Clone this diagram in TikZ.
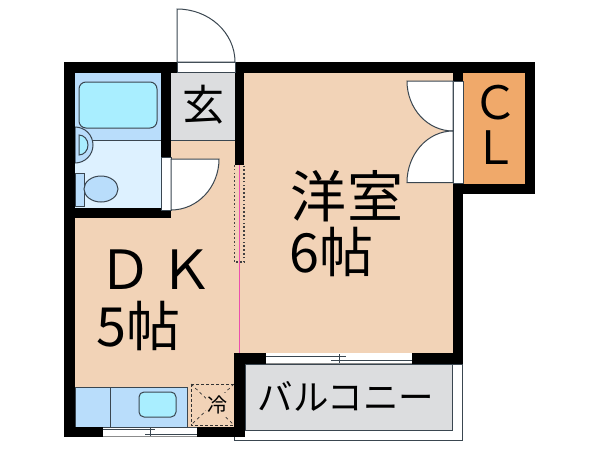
\documentclass[tikz,border=0pt]{standalone}
\usepackage{fontspec}
\usepackage[dvipsnames]{xcolor}
\newfontfamily\cjk{Noto Sans CJK JP}
\definecolor{roomtan}{HTML}{F2D3B7}
\definecolor{bathblue}{HTML}{B9DDFB}
\definecolor{tubblue}{HTML}{A9EEFF}
\definecolor{washblue}{HTML}{DDF1FF}
\definecolor{floorgray}{HTML}{DCDDDF}
\definecolor{closet}{HTML}{F0A96A}
\definecolor{linegray}{HTML}{3A4650}
\definecolor{slidepink}{HTML}{EC4FAE}

\begin{document}
\begin{tikzpicture}[x=1pt,y=-1pt,line join=miter,
    wall/.style={fill=black,draw=none},
    thin line/.style={draw=linegray,line width=1pt},
    leaf/.style={thin line,fill=white},
    sash/.style={draw=linegray,line width=0.8pt},
    rail/.style={draw=black!75,line width=1.3pt,dash pattern=on 1.6pt off 2.2pt},
    label/.style={font=\cjk,text=black,inner sep=0pt,anchor=center}]
            \useasboundingbox (0,0) rectangle (600,450);

            % floors
            \fill[roomtan] (244,73) rectangle (453,353);
            \fill[roomtan] (75,218) rectangle (244,427);
            \fill[roomtan] (171,140) rectangle (244,218);
            \fill[floorgray] (171,73) rectangle (235,140);
            \fill[bathblue] (75,73) rectangle (161,140);
            \fill[washblue] (75,140) rectangle (161,208);
            \fill[closet] (463,73) rectangle (525,184);
            \draw[thin line] (171,140) -- (235,140);

            % balcony
            \draw[draw=linegray,line width=0.7pt] (234,440) rectangle (462.5,364);
            \draw[fill=floorgray,draw=linegray,line width=0.9pt] (245,364) rectangle (452,430);

            % bath and toilet
            \draw[thin line] (75,140) -- (161,140);
            \draw[thin line,fill=tubblue,rounded corners=7pt] (79,82) rectangle (157,128);
            \draw[thin line,fill=bathblue] (75,127) arc[start angle=-90,end angle=90,radius=18] -- cycle;
            \draw[thin line,fill=tubblue] (79,135) arc[start angle=-90,end angle=90,x radius=9,y radius=10] -- cycle;
            \draw[thin line,fill=bathblue] (75,173) rectangle (84,206);
            \draw[thin line,fill=bathblue] (101,189) ellipse[x radius=17,y radius=13];

            % kitchen
            \draw[thin line,fill=bathblue] (75,387) rectangle (187,427);
            \draw[thin line] (110,387) -- (110,427);
            \draw[thin line,fill=tubblue,rounded corners=5pt] (139,392) rectangle (176,417);
            \draw[draw=black!80,line width=1pt,densely dashed] (191,384) rectangle (234,425);
            \draw[draw=black!80,line width=0.7pt,dashed] (191,384) -- (234,425) (234,384) -- (191,425);
            \fill[roomtan] (206,393) rectangle (228,417);

            % walls
            \fill[wall] (64,62) rectangle (535,73);
            \fill[wall] (64,62) rectangle (75,437);
            \fill[wall] (64,427) rectangle (103,437);
            \fill[wall] (197,427) rectangle (245,437);
            \fill[wall] (64,208) rectangle (171,218);
            \fill[wall] (161,62) rectangle (171,157);
            \fill[wall] (235,62) rectangle (244,165);
            \fill[wall] (234,353) rectangle (245,437);
            \fill[wall] (234,353) rectangle (266,364);
            \fill[wall] (412,353) rectangle (463,364);
            \fill[wall] (453,62) rectangle (463,81);
            \fill[wall] (453,183) rectangle (463,364);
            \fill[wall] (525,62) rectangle (535,194);
            \fill[wall] (453,184) rectangle (535,194);

            % entrance door
            \draw[leaf] (177,62) rectangle (235,72);
            \draw[leaf] (177,62) -- (177,9) arc[start angle=-90,end angle=0,x radius=58,y radius=53] -- cycle;

            % bath door
            \draw[leaf] (161,157) rectangle (171,210);
            \draw[leaf] (171,159) -- (219,159) arc[start angle=0,end angle=90,x radius=48,y radius=51] -- cycle;

            % closet doors
            \draw[leaf] (453,81) rectangle (463,183);
            \draw[leaf] (453,81) -- (407,81) arc[start angle=180,end angle=90,x radius=46,y radius=50] -- cycle;
            \draw[leaf] (453,182.5) -- (407,182.5) arc[start angle=180,end angle=270,x radius=46,y radius=51.5] -- cycle;

            % sliding partition
            \draw[rail] (234.5,165) -- (234.5,262) -- (244,262) -- (244,165);
            \draw[draw=slidepink,line width=1.4pt] (239.5,165) -- (239.5,353);

            % windows
            \fill[white] (103,427) rectangle (197,437);
            \draw[sash] (103,427) -- (197,427);
            \draw[sash] (103,429.5) -- (155,429.5);
            \draw[sash] (145,434) -- (197,434);
            \draw[sash] (150,427) -- (150,436);
            \draw[draw=black!45,line width=1pt] (103,436.5) -- (197,436.5);
            \fill[white] (266,354) rectangle (412,363);
            \draw[sash] (266,356.7) -- (346,356.7);
            \draw[sash] (331,360.7) -- (412,360.7);
            \draw[sash] (339,354) -- (339,364);
            \draw[draw=black!45,line width=1pt] (266,363.5) -- (412,363.5);

            % labels
            \node[label,font=\cjk\fontsize{42}{42}\selectfont] (genkan) at (203,105) {玄};
            \node[label,font=\cjk\fontsize{56}{56}\selectfont] (yoshitsu) at (347,196) {洋\kern1pt 室};
            \node[label,font=\cjk\fontsize{54}{54}\selectfont,anchor=west] (yoshitsu size) at (289,252) {6帖};
            \node[label,font=\cjk\fontsize{54}{54}\selectfont] (dk) at (156,270) {Ｄ\kern8pt Ｋ};
            \node[label,font=\cjk\fontsize{54}{54}\selectfont,anchor=west] (dk size) at (96,326) {5帖};
            \node[label,font=\cjk\fontsize{46}{46}\selectfont] (cl c) at (495,103) {Ｃ};
            \node[label,font=\cjk\fontsize{46}{46}\selectfont] (cl l) at (495,148) {Ｌ};
            \node[label,font=\cjk\fontsize{35.5}{35.5}\selectfont] (balcony) at (346,396) {バルコニー};
            \node[label,font=\cjk\fontsize{20}{20}\selectfont] (reizo) at (217,405) {冷};
        \end{tikzpicture}
\end{document}
